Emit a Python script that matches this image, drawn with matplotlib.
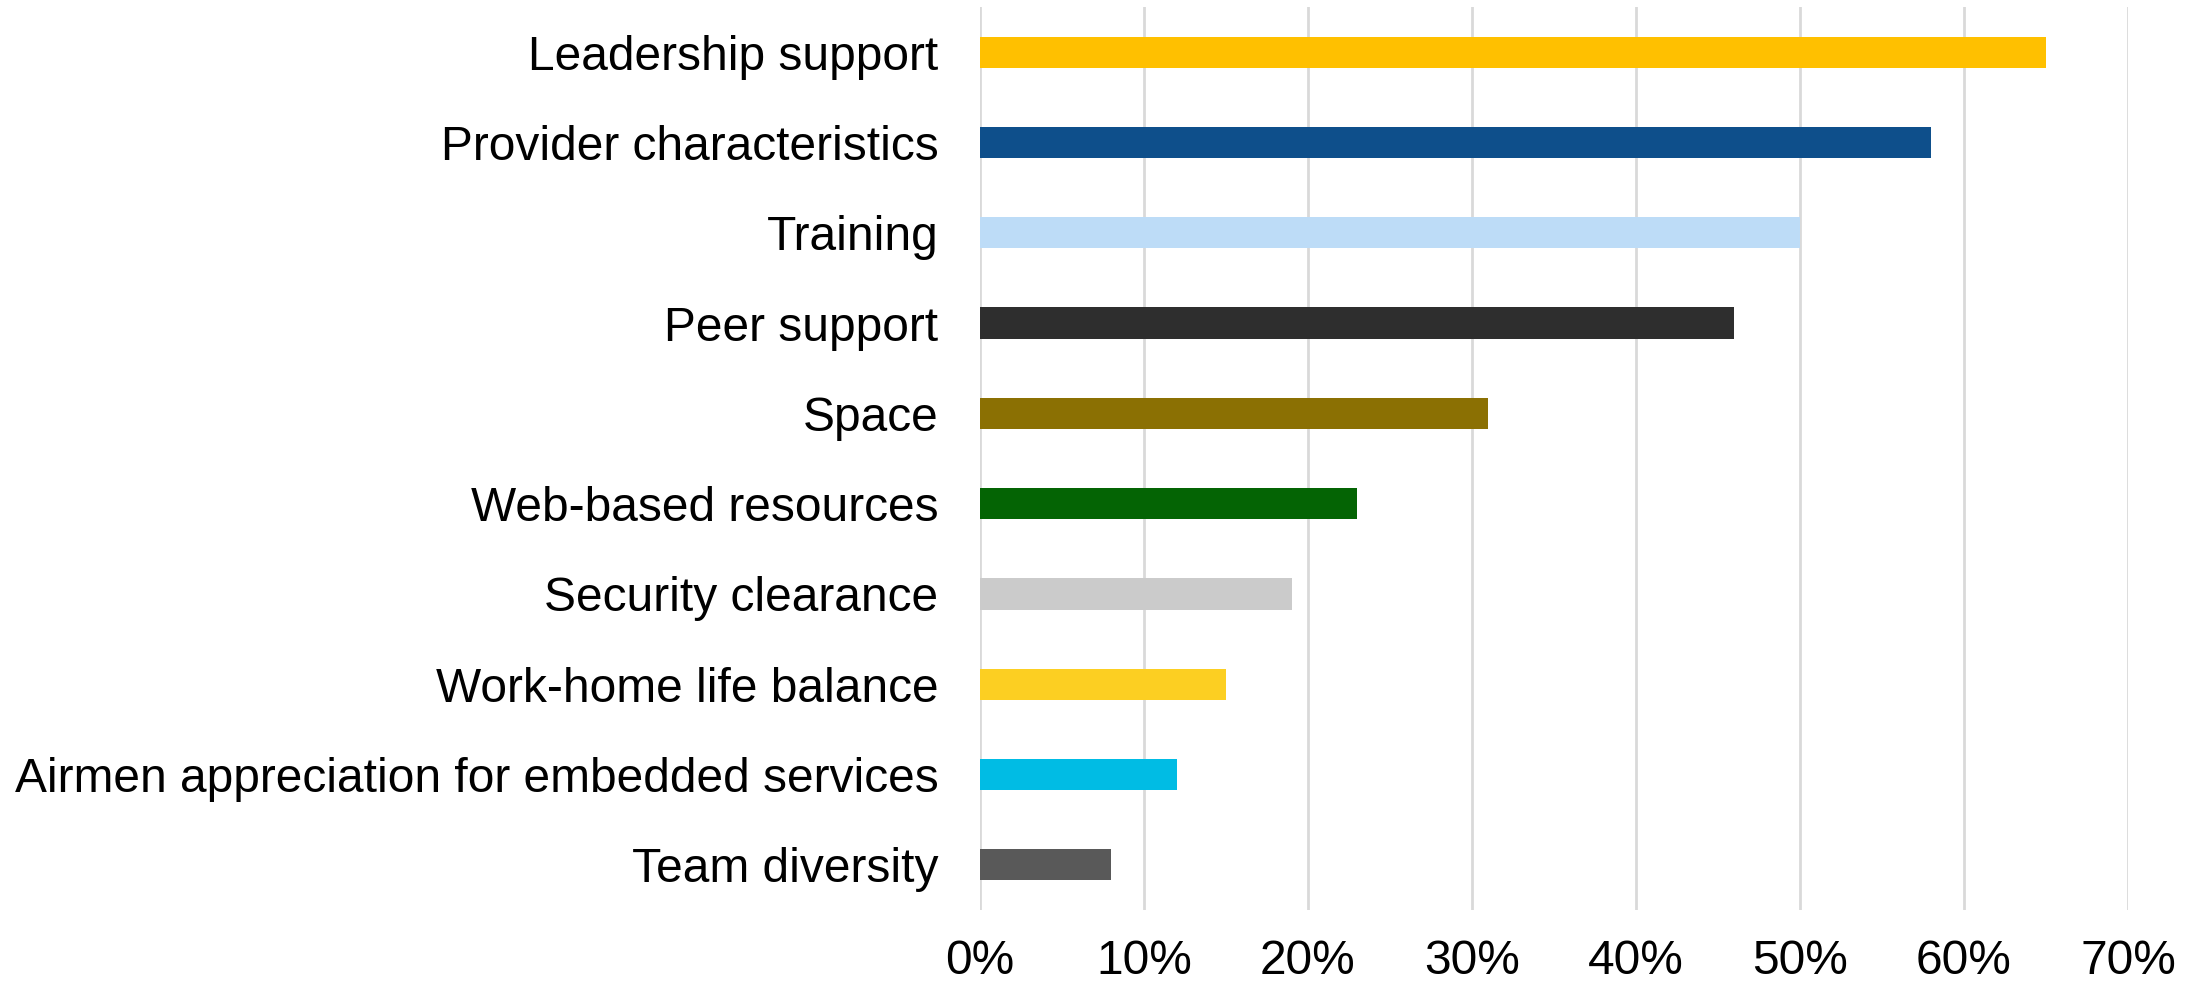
import matplotlib.pyplot as plt
from matplotlib.ticker import PercentFormatter

plt.rcParams['font.family'] = ['Liberation Sans', 'DejaVu Sans']

categories = [
    "Leadership support",
    "Provider characteristics",
    "Training",
    "Peer support",
    "Space",
    "Web-based resources",
    "Security clearance",
    "Work-home life balance",
    "Airmen appreciation for embedded services",
    "Team diversity",
]
values = [0.65, 0.58, 0.50, 0.46, 0.31, 0.23, 0.19, 0.15, 0.12, 0.08]
colors = ["#FFC000", "#0E4F8B", "#BDDCF7", "#2E2E2E", "#8B7003",
          "#046404", "#CBCBCB", "#FCCF22", "#00BCE4", "#595959"]
x_ticks = [0, 0.1, 0.2, 0.3, 0.4, 0.5, 0.6, 0.7]

fig = plt.figure(figsize=(22.01, 9.88), dpi=100)
ax = fig.add_axes([980 / 2201, 78 / 988, 1148 / 2201, 903 / 988])

pos = list(range(len(categories)))
ax.barh(pos, values, height=0.345, color=colors, zorder=3)

ax.set_ylim(len(categories) - 0.5, -0.5)
ax.set_xlim(0, 0.7)
ax.set_yticks(pos)
ax.set_yticklabels(categories, fontsize=34.5)
ax.set_xticks(x_ticks)
ax.xaxis.set_major_formatter(PercentFormatter(1.0, decimals=0))
ax.tick_params(axis='x', labelsize=34.5, length=0, pad=21)
ax.tick_params(axis='y', length=0, pad=30)

ax.grid(axis='x', color='#D9D9D9', linewidth=2, zorder=0)
for side in ax.spines.values():
    side.set_visible(False)

fig.savefig("out.png", dpi=100)
